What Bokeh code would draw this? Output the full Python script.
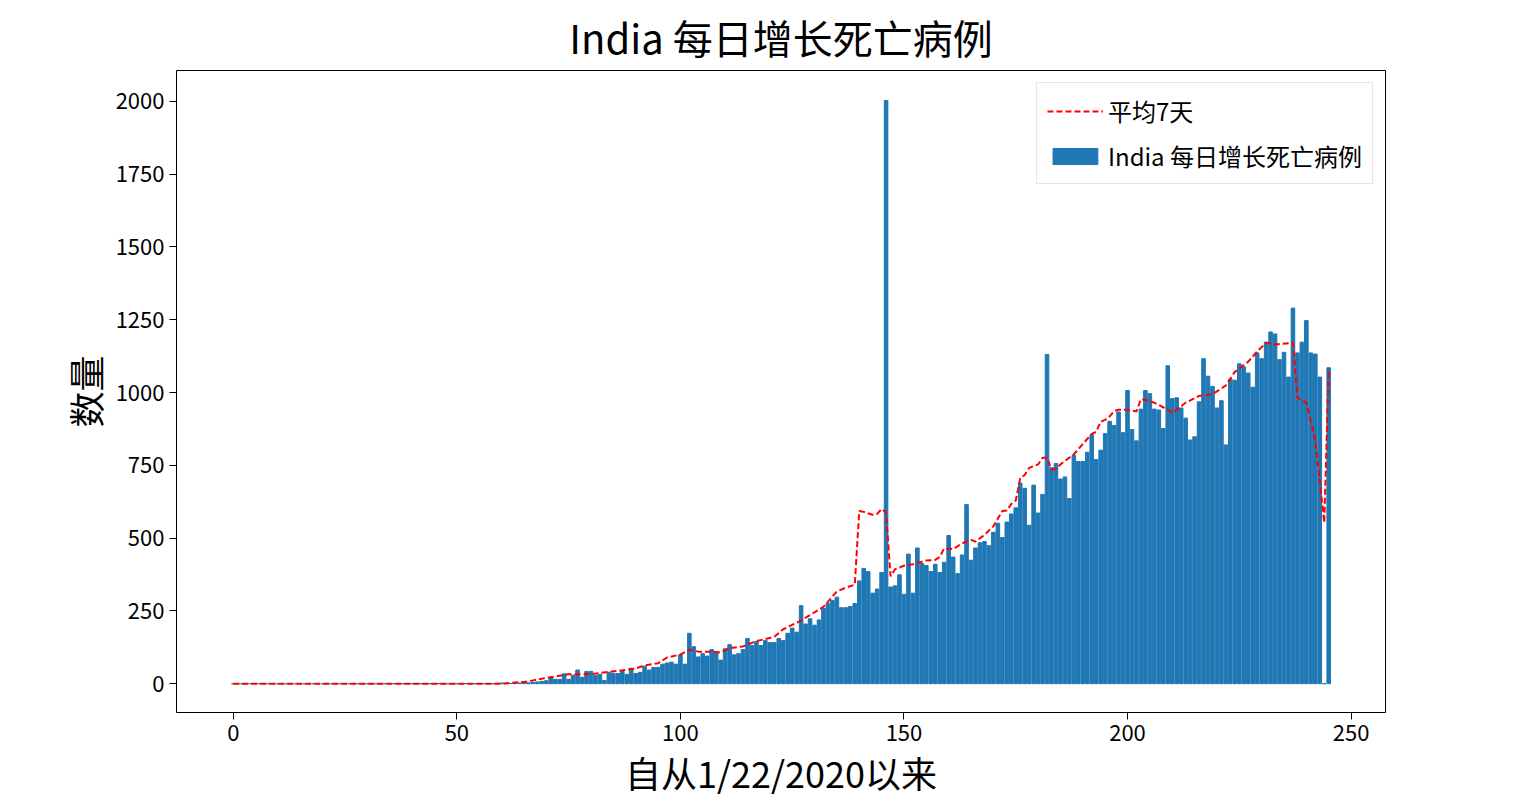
from bokeh.plotting import figure
from bokeh.models import Range1d, FixedTicker, Legend, LegendItem
from bokeh.embed import file_html
from bokeh.resources import INLINE

FONT = "Noto Sans CJK SC"

# daily deaths, day index from 1/22/2020
early = [0] * 56 + [0, 0, 0, 1, 2, 0, 1, 2, 2, 3, 3, 4, 6, 8, 10, 21, 15, 15, 34, 15, 29, 47, 22, 42, 42,
                    29, 32, 11, 39]
later = [35, 35, 42, 32, 53, 35, 39, 60, 47, 56, 56, 67, 71, 74, 67, 99, 67, 173, 127, 92,
         103, 95, 117, 110, 81, 120, 134, 99, 103, 117, 155, 131, 145, 131, 148, 141, 141, 155, 148, 173,
         191, 177, 268, 205, 223, 201, 219, 258, 276, 286, 297, 261, 261, 265, 275, 353, 396, 385, 311, 325,
         382, 2003, 332, 336, 374, 307, 445, 311, 466, 413, 406, 385, 410, 382, 417, 509, 435, 378, 442, 615,
         424, 466, 484, 488, 474, 520, 551, 502, 555, 583, 604, 689, 671, 544, 682, 586, 650, 1131, 742, 756,
         703, 710, 636, 784, 763, 763, 795, 855, 770, 802, 859, 901, 887, 933, 862, 1007, 873, 834, 943, 1007,
         996, 943, 940, 876, 1092, 979, 982, 947, 912, 837, 848, 968, 1116, 1056, 1021, 947, 972, 820, 1046, 1042,
         1099, 1088, 1067, 1018, 1136, 1116, 1173, 1208, 1201, 1113, 1138, 1053, 1290, 1136, 1173, 1247, 1136, 1132,
         1053, 0, 1085]
deaths = early + later
days = list(range(len(deaths)))

# 7-day average line
avg_days = [0, 60, 62, 65, 67, 70, 75, 80, 86, 90, 92, 95, 97, 100, 102, 104, 107, 109, 111, 114, 117, 121, 123,
            127, 132, 135, 137, 139, 140, 141, 143, 144, 145, 146, 147, 148, 150, 152, 155, 157, 158, 159, 161,
            163, 165, 166, 168, 170, 172, 173, 174, 175, 176, 177, 178, 180, 181, 182, 183, 184, 185, 186, 188,
            190, 192, 193, 194, 195, 196, 197, 198, 200, 202, 203, 204, 206, 209, 210, 213, 216, 219, 222, 224,
            227, 229, 231, 233, 237, 238, 240, 242, 244, 245]
avg_vals = [0, 0, 3, 6, 11, 20, 32, 33, 44, 52, 63, 70, 90, 100, 117, 110, 110, 107, 122, 128, 146, 161, 187,
            217, 264, 317, 330, 340, 593, 590, 580, 583, 600, 588, 369, 393, 405, 410, 423, 425, 435, 465, 462,
            482, 494, 488, 511, 541, 593, 595, 617, 629, 705, 717, 741, 753, 776, 776, 735, 738, 753, 765, 788,
            823, 858, 865, 900, 906, 918, 936, 941, 941, 935, 977, 975, 965, 941, 929, 965, 988, 994, 1024, 1071,
            1106, 1141, 1171, 1165, 1171, 982, 965, 835, 553, 1082]

p = figure(width=1524, height=800, output_backend="svg", toolbar_location=None,
           x_range=Range1d(-12.7, 257.7), y_range=Range1d(-99, 2106),
           title="India 每日增长死亡病例", x_axis_label="自从1/22/2020以来", y_axis_label="数量",
           min_border_left=176, min_border_right=139, min_border_top=47, min_border_bottom=0)
p.grid.visible = False
p.outline_line_color = "black"
p.title.align = "center"
p.title.text_font = FONT
p.title.text_font_size = "40px"
p.title.text_font_style = "normal"
p.title.text_color = "black"

bars = p.vbar(x=days, top=deaths, width=0.8, color="#1f77b4")
line = p.line(avg_days, avg_vals, line_color="red", line_dash="6 3", line_width=2)

for ax in (p.xaxis[0], p.yaxis[0]):
    ax.axis_label_text_font = FONT
    ax.axis_label_text_font_size = "36px"
    ax.axis_label_text_font_style = "normal"
    ax.axis_label_text_color = "black"
    ax.axis_label_standoff = 2
    ax.major_label_text_font = FONT
    ax.major_label_text_font_size = "22px"
    ax.major_label_text_color = "black"
    ax.minor_tick_line_color = None
    ax.major_tick_line_color = "black"
    ax.major_tick_out = 7
    ax.major_tick_in = 0
    ax.axis_line_color = None
p.xaxis.ticker = FixedTicker(ticks=[0, 50, 100, 150, 200, 250])
p.yaxis.ticker = FixedTicker(ticks=[0, 250, 500, 750, 1000, 1250, 1500, 1750, 2000])

legend = Legend(items=[LegendItem(label="平均7天", renderers=[line]),
                       LegendItem(label="India 每日增长死亡病例", renderers=[bars])],
                location="top_right", label_text_font=FONT, label_text_font_size="24px",
                label_text_color="black",
                glyph_width=56, glyph_height=20, spacing=10, padding=10, margin=12,
                border_line_color="#cccccc", border_line_width=1)
p.add_layout(legend)

open("out.html", "w").write(file_html(p, INLINE))
